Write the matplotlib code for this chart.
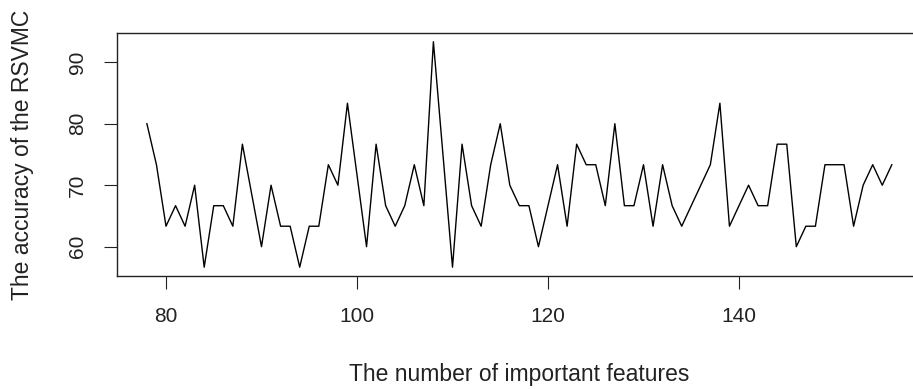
import numpy as np
import matplotlib
matplotlib.use('Agg')
import matplotlib.pyplot as plt

plt.rcParams['font.family'] = ['Liberation Sans', 'DejaVu Sans']

# number of important features vs accuracy (%)
n_features = np.arange(78, 157)
accuracy = [
    80.00, 73.33, 63.33, 66.67, 63.33, 70.00, 56.67, 66.67, 66.67, 63.33,   # 78-87
    76.67, 68.33, 60.00, 70.00, 63.33, 63.33, 56.67, 63.33, 63.33, 73.33,   # 88-97
    70.00, 83.33, 71.67, 60.00, 76.67, 66.67, 63.33, 66.67, 73.33, 66.67,   # 98-107
    93.33, 75.00, 56.67, 76.67, 66.67, 63.33, 73.33, 80.00, 70.00, 66.67,   # 108-117
    66.67, 60.00, 66.67, 73.33, 63.33, 76.67, 73.33, 73.33, 66.67, 80.00,   # 118-127
    66.67, 66.67, 73.33, 63.33, 73.33, 66.67, 63.33, 66.67, 70.00, 73.33,   # 128-137
    83.33, 63.33, 66.67, 70.00, 66.67, 66.67, 76.67, 76.67, 60.00, 63.33,   # 138-147
    63.33, 73.33, 73.33, 73.33, 63.33, 70.00, 73.33, 70.00, 73.33,          # 148-156
]
x_ticks = [80, 100, 120, 140]
y_ticks = [60, 70, 80, 90]

W, H = 913, 389
fig = plt.figure(figsize=(W / 100, H / 100), dpi=100)
# axes box in pixels (right edge runs past the image, as in the original)
left, right, top, bottom = 117.1, 921.6, 32.7, 276.2
ax = fig.add_axes([left / W, 1 - bottom / H, (right - left) / W, (bottom - top) / H])

ax.plot(n_features, accuracy, color='black', lw=1.0)

# R-style 4% padding
xr = n_features.max() - n_features.min()
yr = max(accuracy) - min(accuracy)
ax.set_xlim(n_features.min() - 0.04 * xr, n_features.max() + 0.04 * xr)
ax.set_ylim(min(accuracy) - 0.04 * yr, max(accuracy) + 0.04 * yr)

ax.set_xticks(x_ticks)
ax.set_yticks(y_ticks)
for s in ax.spines.values():
    s.set_linewidth(1.0)
    s.set_color('#222222')
ax.tick_params(axis='both', length=9.5, width=0.8, color='#222222', labelsize=15,
               labelcolor='#222222')
ax.tick_params(axis='x', pad=13)
ax.tick_params(axis='y', pad=12, labelrotation=90)
for lab in ax.get_yticklabels():
    lab.set_va('center')

ax.set_xlabel('The number of important features', fontsize=16.5, color='#222222',
              va='center')
ax.set_ylabel('The accuracy of the RSVMC', fontsize=16.5, color='#222222',
              va='center')
ax.xaxis.set_label_coords((519 - left) / (right - left), (bottom - 375) / (bottom - top))
ax.yaxis.set_label_coords((22.5 - left) / (right - left), 0.5)

plt.savefig('out.png', dpi=100)
